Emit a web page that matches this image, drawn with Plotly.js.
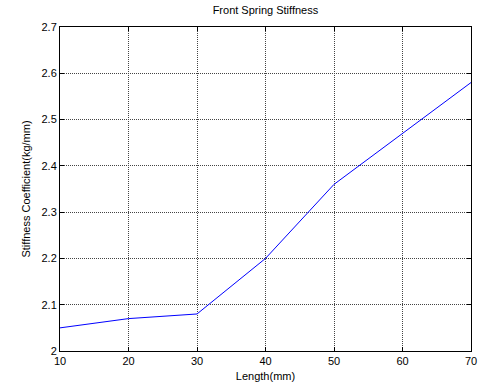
<!DOCTYPE html>
<html>
<head>
<meta charset="utf-8">
<script src="https://cdn.plot.ly/plotly-3.0.1.min.js"></script>
<style>html,body{margin:0;padding:0;background:#fff;}#chart{width:480px;height:389px;}</style>
</head>
<body>
<div id="chart"></div>
<script>
const lengths = [10, 20, 30, 40, 50, 60, 70];
const stiffness = [2.05, 2.07, 2.08, 2.20, 2.36, 2.47, 2.58];
const xTicks = [10, 20, 30, 40, 50, 60, 70];
const yTicks = [2, 2.1, 2.2, 2.3, 2.4, 2.5, 2.6, 2.7];

const fnt = {family: 'Liberation Sans, Arial, sans-serif', size: 11, color: '#000'};
const axisCommon = {
  showline: true, linecolor: '#000', linewidth: 1, mirror: 'ticks',
  ticks: 'inside', ticklen: 4, tickcolor: '#000',
  showgrid: true, gridcolor: '#444', griddash: '1px,1px', gridwidth: 1,
  zeroline: false, tickfont: fnt
};
Plotly.newPlot('chart', [{
  x: lengths, y: stiffness, type: 'scatter', mode: 'lines',
  line: {color: '#0000ff', width: 1}
}], {
  width: 480, height: 389,
  margin: {l: 60, r: 9, t: 27, b: 38},
  paper_bgcolor: '#fff', plot_bgcolor: '#fff',
  showlegend: false,
  title: {text: 'Front Spring Stiffness', font: fnt, x: 0.553, xanchor: 'center', y: 0.985, yanchor: 'top'},
  xaxis: Object.assign({}, axisCommon, {
    range: [10, 70], tickvals: xTicks, ticktext: xTicks.map(String),
    title: {text: 'Length(mm)', font: fnt, standoff: 6}
  }),
  yaxis: Object.assign({}, axisCommon, {
    range: [2, 2.7], tickvals: yTicks, ticktext: yTicks.map(v => v === 2 ? '2' : v.toFixed(1)),
    title: {text: 'Stiffness Coefficient(kg/mm)', font: fnt, standoff: 8}
  })
}, {displayModeBar: false, staticPlot: true});
</script>
</body>
</html>
